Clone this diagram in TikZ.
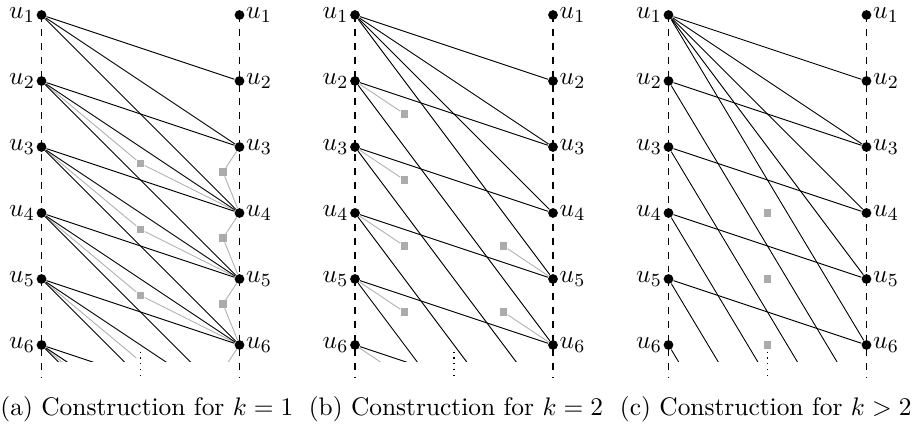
\documentclass[11pt,tikz,border=0pt]{standalone}
\tikzset{
  vtx/.style={circle,fill=black,inner sep=0pt,minimum size=4.2pt},
  gsq/.style={rectangle,fill=black!33,inner sep=0pt,minimum size=3.2pt},
  gline/.style={black!30,line width=0.4pt},
  eline/.style={black,line width=0.4pt},
  ulab/.style={inner sep=0.4pt},
  guide/.style={dashed,line width=0.45pt},
  capt/.style={anchor=base west,inner sep=0pt}
}
\newcommand{\panelbase}[1]{%
  \coordinate (#1Lt) at (0,0);
  \coordinate (#1Lb) at (0,-5.5);
  \coordinate (#1Rt) at (3,0);
  \coordinate (#1Rb) at (3,-5.5);
  \coordinate (#1Mt) at (1.5,-5.1);
  \coordinate (#1Mb) at (1.5,-5.5);
  \draw[guide] (#1Lt) -- (#1Lb);
  \draw[guide] (#1Rt) -- (#1Rb);
  \draw[dotted,line width=0.5pt] (#1Mt) -- (#1Mb);
  \foreach \i in {1,...,6} {
    \node[vtx,label={[ulab]left:$u_{\i}$}] (#1L\i) at (0,{1-\i}) {};
    \node[vtx,label={[ulab]right:$u_{\i}$}] (#1R\i) at (3,{1-\i}) {};
  }
  \foreach \i in {7,...,11} {\coordinate (#1R\i) at (3,{1-\i});}
}
\begin{document}
\begin{tikzpicture}
\useasboundingbox (-0.629,0.227) rectangle (13.22,-6.258);

% ---------- panel (a)
\begin{scope}
  \panelbase{a}
  \foreach \i in {2,3,4} {\node[gsq] (aS\i) at (1.5,{-\i-0.25}) {};}
  \coordinate (aS5) at (1.5,-5.25);
  \coordinate (aS6) at (1.5,-6.25);
  \foreach \i in {3,4,5} {\node[gsq] (aT\i) at (2.75,{1-\i-0.38}) {};}
  \coordinate (aT6) at (2.75,-5.38);
  \begin{scope}
    \clip (-1,1) rectangle (4,-5.25);
    \foreach \i/\j in {2/4,3/5,4/6} {\draw[gline] (aL\i) -- (aS\i) -- (aR\j);}
    \draw[gline,shorten >=2.3pt] (aL5) -- (aS5);
    \draw[gline] (aL6) -- (aS6);
    \foreach \i/\j in {3/4,4/5,5/6} {\draw[gline] (aR\i) -- (aT\i) -- (aR\j);}
    \draw[gline] (aR6) -- (aT6);
    \foreach \i in {1,...,6} {
      \foreach \d in {1,2,3} {
        \pgfmathtruncatemacro\j{\i+\d}
        \draw[eline] (aL\i) -- (aR\j);
      }
    }
  \end{scope}
\end{scope}

% ---------- panel (b)
\begin{scope}[xshift=4.75cm]
  \panelbase{b}
  \foreach \i in {2,...,5} {\node[gsq] (bS\i) at (0.75,{1-\i-0.5}) {};}
  \coordinate (bS6) at (0.75,-5.5);
  \node[gsq] (bT5) at (2.25,-3.5) {};
  \node[gsq] (bT6) at (2.25,-4.5) {};
  \begin{scope}
    \clip (-1,1) rectangle (4,-5.25);
    \foreach \i in {2,...,6} {\draw[gline] (bL\i) -- (bS\i);}
    \draw[gline] (bT5) -- (bR5);
    \draw[gline] (bT6) -- (bR6);
    \foreach \j in {2,...,5} {\draw[eline] (bL1) -- (bR\j);}
    \foreach \i in {2,...,6} {
      \pgfmathtruncatemacro\j{\i+1}
      \draw[eline] (bL\i) -- (bR\j);
    }
    \foreach \i in {2,...,5} {
      \pgfmathtruncatemacro\j{\i+4}
      \draw[eline] (bL\i) -- (bR\j);
    }
  \end{scope}
\end{scope}

% ---------- panel (c)
\begin{scope}[xshift=9.5cm]
  \panelbase{c}
  \foreach \i in {4,5,6} {\node[gsq] (cS\i) at (1.5,{1-\i}) {};}
  \begin{scope}
    \clip (-1,1) rectangle (4,-5.25);
    \foreach \j in {2,...,6} {\draw[eline] (cL1) -- (cR\j);}
    \foreach \i in {2,...,5} {
      \pgfmathtruncatemacro\j{\i+1}
      \draw[eline] (cL\i) -- (cR\j);
    }
    \foreach \i in {2,...,6} {
      \pgfmathtruncatemacro\j{\i+5}
      \draw[eline] (cL\i) -- (cR\j);
    }
  \end{scope}
\end{scope}

% ---------- captions
\node[capt] (capa) at (-0.629,-6.076) {(a) Construction for $k=1$};
\node[capt,anchor=base] (capb) at (6.28,-6.076) {(b) Construction for $k=2$};
\node[capt,anchor=base east] (capc) at (13.19,-6.076) {(c) Construction for $k>2$};
\end{tikzpicture}
\end{document}
